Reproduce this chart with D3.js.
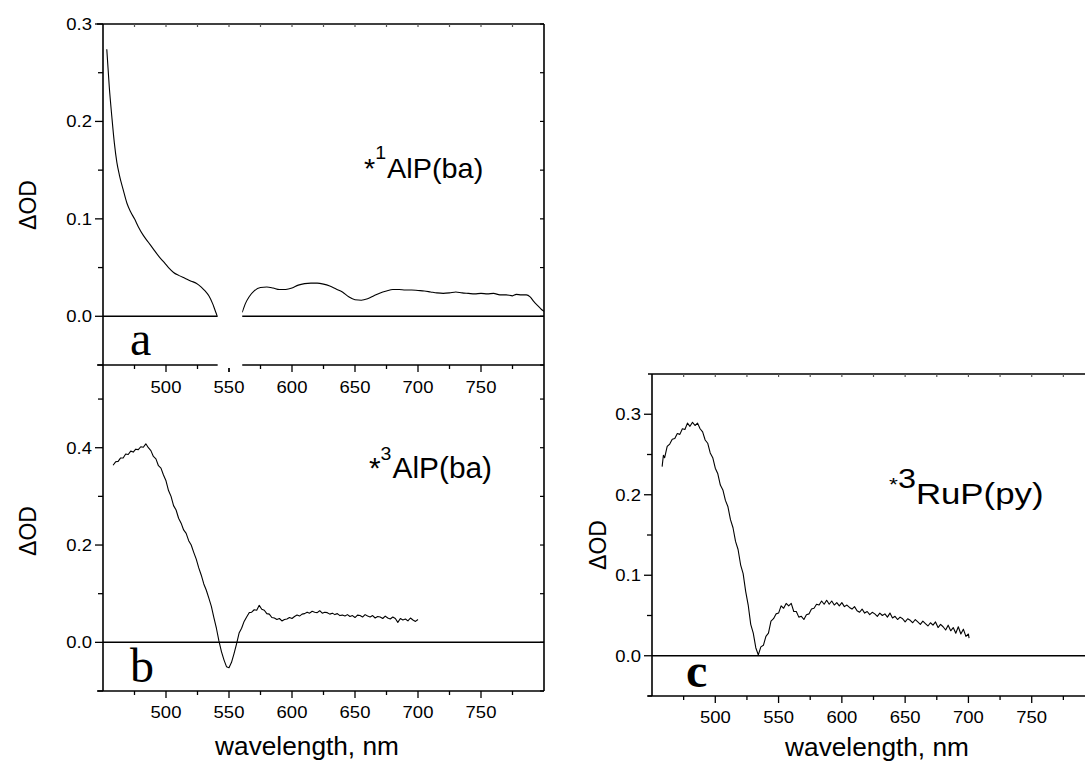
<!DOCTYPE html>
<html><head><meta charset="utf-8">
<script src="https://cdn.jsdelivr.net/npm/d3@7"></script>
<style>
body{margin:0;background:#fff}
svg{display:block}
text{font-family:"Liberation Sans",Arial,Helvetica,sans-serif;fill:#000}
</style>
</head><body>
<svg id="chart" width="1085" height="762"></svg>
<script>
// ---------- data ----------
const xMajorTicks = [500, 550, 600, 650, 700, 750];
const xMinorTicks = [475, 525, 575, 625, 675, 725, 775];
const xTopTicks = [475, 500, 525, 550, 575, 600, 625, 650, 675, 700, 725, 750, 775];
const yMajorA = [0.0, 0.1, 0.2, 0.3];
const yMinorA = [-0.05, 0.05, 0.15, 0.25];
const yMajorB = [0.0, 0.2, 0.4];
const yMinorB = [-0.1, 0.1, 0.3, 0.5];
const yMajorC = [0.0, 0.1, 0.2, 0.3];
const yMinorC = [-0.05, 0.05, 0.15, 0.25];
const xLabel = "wavelength, nm";
const yLabel = "\u0394OD";
const panelLetters = ["a", "b", "c"];

// *1AlP(ba) spectrum, blue part (before pump-scatter gap)
const spectrumA1 = [[453,0.274],[455,0.235],[457,0.205],[459,0.178],[461,0.158],[463,0.145],[466,0.130],[469,0.116],[472,0.107],[475,0.100],[478,0.092],[482,0.083],[486,0.076],[490,0.069],[494,0.062],[498,0.056],[502,0.050],[506,0.045],[510,0.042],[515,0.039],[520,0.036],[524,0.034],[528,0.030],[531,0.026],[534,0.021],[537,0.013],[539,0.006],[540.7,0.0]];
// *1AlP(ba) spectrum, red part (after gap)
const spectrumA2 = [[560.5,0.004],[563,0.013],[566,0.020],[570,0.026],[575,0.0295],[580,0.030],[585,0.029],[590,0.0275],[595,0.0275],[600,0.029],[605,0.032],[610,0.0335],[615,0.034],[620,0.034],[625,0.033],[630,0.031],[635,0.028],[640,0.025],[645,0.020],[650,0.017],[655,0.0165],[660,0.018],[665,0.021],[670,0.024],[675,0.026],[680,0.0275],[685,0.0275],[690,0.027],[695,0.027],[700,0.0265],[705,0.026],[710,0.025],[715,0.024],[720,0.0235],[725,0.024],[730,0.025],[735,0.024],[740,0.0235],[745,0.023],[750,0.0235],[755,0.023],[760,0.0235],[765,0.022],[770,0.022],[775,0.021],[778,0.0225],[782,0.022],[786,0.022],[789,0.020],[792,0.015],[795,0.011],[798,0.007],[800,0.005]];
// *3AlP(ba) spectrum
const spectrumB = [[458,.364],[460,.371],[462,.372],[464,.379],[466,.379],[468,.387],[470,.386],[472,.393],[474,.391],[476,.397],[478,.396],[480,.402],[482,.401],[484,.408],[486,.400],[488,.394],[490,.382],[492,.377],[494,.363],[496,.358],[498,.344],[500,.332],[502,.312],[504,.300],[506,.281],[508,.272],[510,.255],[512,.245],[514,.231],[516,.224],[518,.209],[520,.200],[522,.185],[524,.171],[526,.153],[528,.138],[530,.120],[532,.107],[534,.091],[536,.074],[538,.051],[540,.029],[542,.003],[544,-.019],[546,-.036],[548,-.050],[550,-.052],[552,-.041],[554,-.023],[556,-.003],[558,.019],[560,.029],[562,.043],[564,.052],[566,.061],[568,.062],[570,.067],[572,.066],[574,.076],[576,.068],[578,.066],[580,.059],[582,.058],[584,.051],[586,.050],[588,.047],[590,.049],[592,.044],[594,.047],[596,.048],[598,.051],[600,.049],[602,.053],[604,.056],[606,.054],[608,.058],[610,.059],[612,.062],[614,.060],[616,.064],[618,.062],[620,.061],[622,.065],[624,.060],[626,.062],[628,.061],[630,.058],[632,.060],[634,.057],[636,.059],[638,.055],[640,.056],[642,.054],[644,.057],[646,.053],[648,.055],[650,.051],[652,.056],[654,.055],[656,.052],[658,.057],[660,.054],[662,.052],[664,.055],[666,.050],[668,.053],[670,.052],[672,.049],[674,.054],[676,.050],[678,.048],[680,.052],[682,.049],[684,.041],[686,.049],[688,.046],[690,.048],[692,.044],[694,.050],[696,.046],[698,.043],[700,.047]];
// *3RuP(py) spectrum
const spectrumC = [[458,.235],[459,.249],[460,.246],[462,.260],[464,.263],[466,.269],[468,.270],[470,.276],[472,.275],[474,.282],[476,.281],[478,.289],[480,.285],[482,.290],[484,.286],[486,.289],[488,.282],[490,.278],[492,.268],[494,.264],[496,.252],[498,.246],[500,.233],[502,.226],[504,.212],[506,.206],[508,.193],[510,.185],[512,.169],[514,.159],[516,.142],[518,.132],[520,.113],[522,.102],[524,.080],[526,.063],[528,.039],[530,.028],[532,.010],[534,.001],[536,.011],[538,.013],[540,.024],[542,.028],[544,.043],[546,.046],[548,.052],[550,.053],[552,.062],[554,.059],[556,.065],[558,.062],[560,.065],[562,.055],[564,.055],[566,.048],[568,.049],[570,.045],[572,.051],[574,.052],[576,.058],[578,.059],[580,.064],[582,.063],[584,.068],[586,.064],[588,.069],[590,.064],[592,.068],[594,.063],[596,.066],[598,.062],[600,.066],[602,.061],[604,.063],[606,.060],[608,.058],[610,.061],[612,.056],[614,.054],[616,.058],[618,.053],[620,.055],[622,.051],[624,.054],[626,.052],[628,.049],[630,.053],[632,.050],[634,.052],[636,.048],[638,.053],[640,.047],[642,.049],[644,.045],[646,.048],[648,.046],[650,.042],[652,.046],[654,.044],[656,.041],[658,.045],[660,.042],[662,.039],[664,.043],[666,.040],[668,.037],[670,.041],[672,.038],[674,.042],[676,.035],[678,.039],[680,.036],[682,.032],[684,.038],[686,.031],[688,.035],[690,.028],[692,.036],[694,.027],[696,.033],[698,.024],[700,.027],[700.5,.022]];

// ---------- drawing ----------
const svg = d3.select("#chart");
const fmt = d3.format(".1f");
const xDomain = [450, 800];

function panel(opt) {
  const x = d3.scaleLinear(xDomain, [opt.left, opt.right]);
  const y = d3.scaleLinear(opt.yDomain, [opt.bottom, opt.top]);
  const g = svg.append("g");
  return {x, y, g};
}
function hline(g, y0, x0, x1, w) {
  g.append("line").attr("x1", x0).attr("x2", x1).attr("y1", y0).attr("y2", y0)
    .attr("stroke", "#000").attr("stroke-width", w || 1.5);
}
function vline(g, x0, y0, y1, w) {
  g.append("line").attr("x1", x0).attr("x2", x0).attr("y1", y0).attr("y2", y1)
    .attr("stroke", "#000").attr("stroke-width", w || 1.5);
}
function leftTicks(p, major, minor, xAxis) {
  major.forEach(v => {
    p.g.append("line").attr("x1", xAxis - 8).attr("x2", xAxis).attr("y1", p.y(v)).attr("y2", p.y(v)).attr("stroke", "#000").attr("stroke-width", 1.3);
    p.g.append("text").attr("transform", `translate(${xAxis - 11},${p.y(v) + 6}) scale(1.12,1)`)
      .attr("text-anchor", "end").attr("font-size", 16.5).text(fmt(v));
  });
  minor.forEach(v => {
    p.g.append("line").attr("x1", xAxis - 5).attr("x2", xAxis).attr("y1", p.y(v)).attr("y2", p.y(v)).attr("stroke", "#000").attr("stroke-width", 1.3);
  });
}
function rightTicks(p, vals, xAxis) {
  vals.forEach(v => {
    p.g.append("line").attr("x1", xAxis - 4).attr("x2", xAxis).attr("y1", p.y(v)).attr("y2", p.y(v)).attr("stroke", "#000").attr("stroke-width", 1.2);
  });
}
function bottomTicks(p, yAxis, labelBaseline) {
  xMajorTicks.forEach(v => {
    p.g.append("line").attr("x1", p.x(v)).attr("x2", p.x(v)).attr("y1", yAxis).attr("y2", yAxis + 7).attr("stroke", "#000").attr("stroke-width", 1.3);
    p.g.append("text").attr("transform", `translate(${p.x(v)},${labelBaseline}) scale(1.12,1)`)
      .attr("text-anchor", "middle").attr("font-size", 16.5).text(v);
  });
  xMinorTicks.forEach(v => {
    p.g.append("line").attr("x1", p.x(v)).attr("x2", p.x(v)).attr("y1", yAxis).attr("y2", yAxis + 4).attr("stroke", "#000").attr("stroke-width", 1.3);
  });
}
function topTicks(p, yAxis) {
  xTopTicks.forEach(v => {
    p.g.append("line").attr("x1", p.x(v)).attr("x2", p.x(v)).attr("y1", yAxis).attr("y2", yAxis + 3).attr("stroke", "#555").attr("stroke-width", 1.2);
  });
}
function curve(p, data, smooth) {
  const line = d3.line().x(d => p.x(d[0])).y(d => p.y(d[1]));
  if (smooth) line.curve(d3.curveMonotoneX);
  p.g.append("path").datum(data).attr("d", line).attr("fill", "none")
    .attr("stroke", "#000").attr("stroke-width", 1.1).attr("stroke-linejoin", "round");
}
function yTitle(p, xb, yc) {
  p.g.append("text").attr("transform", `translate(${xb},${yc}) rotate(-90)`)
    .attr("text-anchor", "middle").attr("font-size", 23).text(yLabel);
}
function xTitle(p, xc, yb) {
  p.g.append("text").attr("transform", `translate(${xc},${yb}) scale(1.05,1)`)
    .attr("text-anchor", "middle").attr("font-size", 25).text(xLabel);
}
function letter(p, t, x0, yb, bold) {
  p.g.append("text").attr("x", x0).attr("y", yb).attr("font-size", 48)
    .attr("font-weight", bold ? "bold" : "normal")
    .style("font-family", '"Liberation Serif","Times New Roman",serif').text(t);
}

// ----- panel a -----
const A = panel({left: 103, right: 544, top: 24, bottom: 365, yDomain: [-0.05, 0.3]});
curve(A, spectrumA1, true);
curve(A, spectrumA2, true);
hline(A.g, A.y(0), 103, 544, 1.6);
hline(A.g, 24, 97, 544, 1.6);
vline(A.g, 103, 24, 365, 1.6);
vline(A.g, 544, 24, 365, 1.6);
hline(A.g, 365, 97, 544, 1.6);
topTicks(A, 24);
leftTicks(A, yMajorA, yMinorA, 103);
rightTicks(A, yMajorA.concat(yMinorA), 544);
bottomTicks(A, 365, 393);
// scatter gap around the pump wavelength
A.g.append("rect").attr("x", A.x(541)).attr("width", A.x(560.5) - A.x(541))
  .attr("y", A.y(0.012)).attr("height", 368 - A.y(0.012)).attr("fill", "#fff");
A.g.append("line").attr("x1", A.x(550)).attr("x2", A.x(550)).attr("y1", 368).attr("y2", 372).attr("stroke", "#000").attr("stroke-width", 1.3);
yTitle(A, 36, 205);
letter(A, panelLetters[0], 130, 355, false);
A.g.append("text").attr("transform", "translate(364,178) scale(1.03,1)").attr("font-size", 28)
  .call(t => {
    t.append("tspan").text("*");
    t.append("tspan").attr("font-size", 19).attr("dy", -19).text("1");
    t.append("tspan").attr("dy", 19).attr("dx", 1).text("AlP(ba)");
  });

// ----- panel b -----
const B = panel({left: 103, right: 544, top: 365, bottom: 691, yDomain: [-0.1, 0.57]});
curve(B, spectrumB, false);
hline(B.g, B.y(0), 103, 544, 1.5);
vline(B.g, 103, 365, 691, 1.6);
vline(B.g, 544, 365, 691, 1.6);
hline(B.g, 691, 97, 544, 1.6);
leftTicks(B, yMajorB, yMinorB, 103);
rightTicks(B, yMajorB.concat(yMinorB), 544);
bottomTicks(B, 691, 718);
yTitle(B, 36, 531);
xTitle(B, 307, 755);
letter(B, panelLetters[1], 130, 682, false);
B.g.append("text").attr("transform", "translate(369,478) scale(1.03,1)").attr("font-size", 29)
  .call(t => {
    t.append("tspan").text("*");
    t.append("tspan").attr("font-size", 19).attr("dy", -18).text("3");
    t.append("tspan").attr("dy", 18).attr("dx", 1).text("AlP(ba)");
  });

// ----- panel c -----
const C = panel({left: 652, right: 1095, top: 374, bottom: 696, yDomain: [-0.05, 0.35]});
curve(C, spectrumC, false);
hline(C.g, C.y(0), 652, 1085, 1.6);
hline(C.g, 374, 648, 1085, 1.6);
vline(C.g, 652, 374, 696, 1.6);
hline(C.g, 696, 648, 1085, 1.6);
topTicks(C, 374);
leftTicks(C, yMajorC, yMinorC, 652);
bottomTicks(C, 696, 723);
yTitle(C, 606, 545);
xTitle(C, 877, 756);
letter(C, panelLetters[2], 686, 687, true);
C.g.append("text").attr("transform", "translate(889,504) scale(1.2,1)").attr("font-size", 29)
  .call(t => {
    t.append("tspan").attr("font-size", 19).attr("dy", -13).text("*");
    t.append("tspan").attr("font-size", 27).attr("dy", -3).text("3");
    t.append("tspan").attr("dy", 16).text("RuP(py)");
  });
</script>
</body></html>
